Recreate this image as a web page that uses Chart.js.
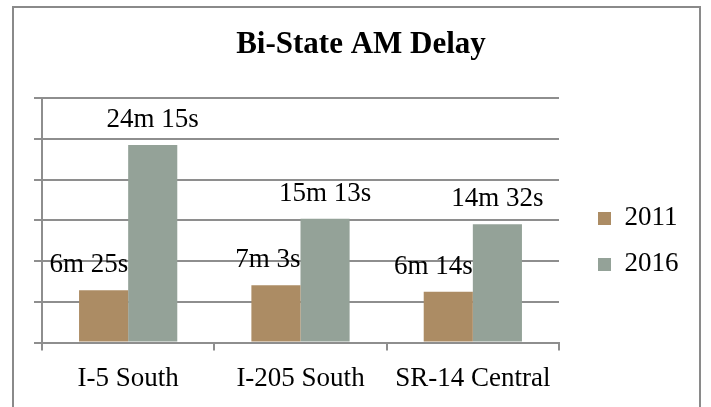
<!DOCTYPE html>
<html>
<head>
<meta charset="utf-8">
<script src="https://cdn.jsdelivr.net/npm/chart.js@4"></script>
<style>
  html, body { margin: 0; padding: 0; background: #fff; }
  #wrap { position: relative; width: 711px; height: 407px; overflow: hidden; }
  #frame { position: absolute; left: 12px; top: 6px; width: 689px; height: 420px; border: 2px solid #8a8a8a; box-sizing: border-box; }
  canvas { position: absolute; left: 0; top: 0; }
</style>
</head>
<body>
<div id="wrap">
  <div id="frame"></div>
  <canvas id="chart" width="711" height="407"></canvas>
</div>
<script>
const categories = ["I-5 South", "I-205 South", "SR-14 Central"];
const years = ["2011", "2016"];
// delay in seconds
const delay2011 = [385, 423, 374];
const delay2016 = [1455, 913, 872];
const colors = ["#ac8c64", "#94a298"];

const serif = "'Liberation Serif', 'Times New Roman', serif";
const gridColor = "#8e8e8e";

function fmt(sec) {
  return `${Math.floor(sec / 60)}m ${sec % 60}s`;
}

// value labels above the bars
const barLabels = {
  id: "barLabels",
  afterDatasetsDraw(chart) {
    const ctx = chart.ctx;
    ctx.save();
    ctx.font = `27px ${serif}`;
    ctx.fillStyle = "#000";
    ctx.textBaseline = "alphabetic";
    chart.data.datasets.forEach((ds, di) => {
      const meta = chart.getDatasetMeta(di);
      meta.data.forEach((bar, i) => {
        const text = fmt(ds.data[i]);
        if (di === 0) {
          ctx.textAlign = "right";
          ctx.fillText(text, bar.x + bar.width / 2, bar.y - 18);
        } else {
          ctx.textAlign = "center";
          ctx.fillText(text, bar.x, bar.y - 18);
        }
      });
    });
    ctx.restore();
  }
};

new Chart(document.getElementById("chart"), {
  type: "bar",
  data: {
    labels: categories,
    datasets: [
      { label: years[0], data: delay2011, backgroundColor: colors[0] },
      { label: years[1], data: delay2016, backgroundColor: colors[1] }
    ]
  },
  options: {
    responsive: false,
    animation: false,
    events: [],
    layout: { padding: { left: 34, top: 8, right: 23, bottom: 0 } },
    datasets: { bar: { categoryPercentage: 0.57, barPercentage: 1.0 } },
    plugins: {
      title: {
        display: true,
        text: "Bi-State AM Delay",
        color: "#000",
        font: { family: serif, size: 31, weight: "bold" },
        padding: { top: 18, bottom: 35 }
      },
      legend: {
        position: "right",
        fullSize: false,
        title: { display: true, text: "", font: { size: 12 }, padding: { top: 0, bottom: 27.6 } },
        labels: {
          color: "#000",
          font: { family: serif, size: 27 },
          boxWidth: 13,
          boxHeight: 13,
          padding: 19
        }
      },
      tooltip: { enabled: false }
    },
    scales: {
      x: {
        grid: { drawOnChartArea: false, color: gridColor, lineWidth: 2, tickLength: 8 },
        border: { color: gridColor, width: 2 },
        ticks: { color: "#000", font: { family: serif, size: 27 }, padding: 12 }
      },
      y: {
        min: 0,
        max: 1800,
        grid: { color: gridColor, lineWidth: 2, tickLength: 8 },
        border: { color: gridColor, width: 2 },
        ticks: { display: false, stepSize: 300 }
      },
      // empty gap between plot and legend
      gap: {
        position: "right",
        grid: { drawOnChartArea: false, color: "rgba(0,0,0,0)", tickLength: 20 },
        border: { display: false },
        ticks: { display: false }
      }
    }
  },
  plugins: [barLabels]
});
</script>
</body>
</html>
